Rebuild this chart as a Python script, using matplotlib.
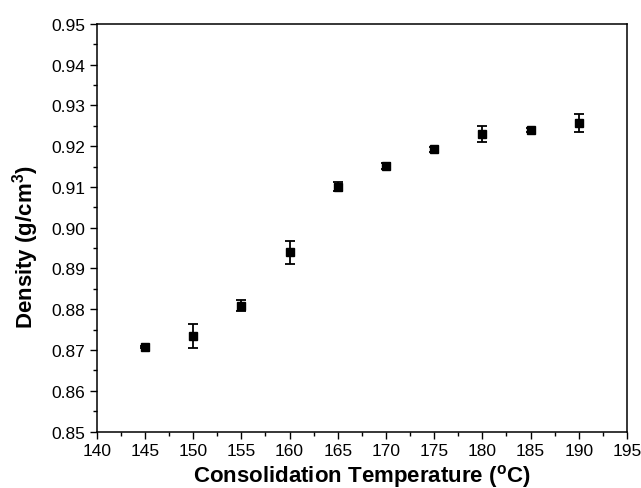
import matplotlib
matplotlib.use("Agg")
import matplotlib.pyplot as plt
from matplotlib.ticker import MultipleLocator

plt.rcParams["font.family"] = ["Liberation Sans", "DejaVu Sans"]
plt.rcParams["mathtext.default"] = "regular"

# data
temps = [145, 150, 155, 160, 165, 170, 175, 180, 185, 190]
density = [0.8707, 0.8735, 0.8809, 0.8940, 0.9101, 0.9151, 0.9192, 0.9230, 0.9240, 0.9257]
err = [0.0003, 0.0030, 0.0014, 0.0028, 0.0012, 0.0008, 0.0005, 0.0019, 0.0005, 0.0023]

fig = plt.figure(figsize=(6.41, 4.89), dpi=100)
ax = fig.add_axes([0.151, 0.1155, 0.827, 0.8335])

ax.errorbar(temps, density, yerr=err, fmt="s", color="black", ms=5.8,
            ecolor="black", elinewidth=1.3, capsize=3.3, capthick=1.3)

ax.set_xlim(140, 195)
ax.set_ylim(0.85, 0.95)
ax.xaxis.set_major_locator(MultipleLocator(5))
ax.xaxis.set_minor_locator(MultipleLocator(2.5))
ax.yaxis.set_major_locator(MultipleLocator(0.01))
ax.yaxis.set_minor_locator(MultipleLocator(0.005))
ax.yaxis.set_major_formatter(plt.FormatStrFormatter("%.2f"))

ax.tick_params(which="both", direction="out", top=False, right=False, labelsize=12.5)
ax.tick_params(which="major", length=5, width=1, pad=3.5)
ax.tick_params(which="minor", length=3, width=1)
for sp in ax.spines.values():
    sp.set_linewidth(1.1)

ax.set_xlabel("Consolidation Temperature ($^{o}$C)", fontsize=16, fontweight="bold")
ax.set_ylabel("Density (g/cm$^{3}$)", fontsize=16, fontweight="bold")
ax.xaxis.set_label_coords(0.5, -0.074)
ax.yaxis.set_label_coords(-0.106, 0.455)

fig.savefig("out.png", dpi=100)
